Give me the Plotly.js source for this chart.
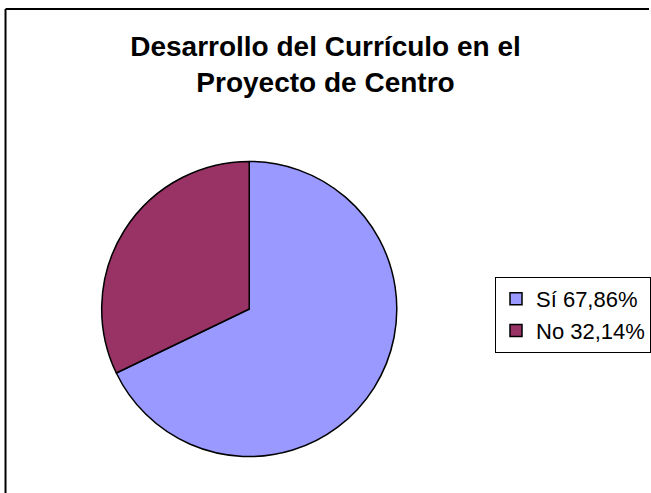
<!DOCTYPE html>
<html>
<head>
<meta charset="utf-8">
<script src="https://cdn.plot.ly/plotly-3.0.1.min.js"></script>
<style>
  html, body { margin: 0; padding: 0; background: #fff; overflow: hidden; }
  #chart { width: 651px; height: 493px; }
</style>
</head>
<body>
<div id="chart"></div>
<script>
// ─────────────────────────────
// DATOS
// ─────────────────────────────
const etiquetas = ['Sí 67,86%', 'No 32,14%'];
const valores = [67.86, 32.14];
const colores = ['#9999FF', '#993366'];
const titulo = 'Desarrollo del Currículo en el<br>Proyecto de Centro';


// ─────────────────────────────
// GRÁFICA
// ─────────────────────────────
const traza = {
  type: 'pie',
  labels: etiquetas,
  values: valores,
  sort: false,
  direction: 'clockwise',
  rotation: 0,
  textinfo: 'none',
  hoverinfo: 'label',
  marker: { colors: colores, line: { color: '#000', width: 1.5 } },
  domain: { x: [0.1567, 0.6114], y: [0.073, 0.6734] }
};

const layout = {
  width: 651,
  height: 493,
  margin: { l: 0, r: 0, t: 0, b: 0 },
  paper_bgcolor: '#fff',
  font: { family: 'Liberation Sans, Arial, sans-serif', color: '#000' },
  title: {
    text: titulo,
    x: 0.5,
    xanchor: 'center',
    y: 0.887,
    yanchor: 'top',
    font: { size: 28, weight: 'bold' }
  },
  showlegend: true,
  legend: {
    x: 0.763,
    y: 0.438,
    xanchor: 'left',
    yanchor: 'top',
    bordercolor: '#000',
    borderwidth: 1,
    font: { size: 22 }
  },
  // marco exterior: solo borde superior e izquierdo (los otros se salen)
  shapes: [
    { type: 'line', xref: 'paper', yref: 'paper', x0: 0.0085, x1: 1, y0: 0.9817, y1: 0.9817,
      line: { color: '#000', width: 2 } },
    { type: 'line', xref: 'paper', yref: 'paper', x0: 0.0085, x1: 0.0085, y0: 0, y1: 0.9817,
      line: { color: '#000', width: 2 } }
  ]
};

Plotly.newPlot('chart', [traza], layout, { displayModeBar: false, staticPlot: true });
</script>
</body>
</html>
